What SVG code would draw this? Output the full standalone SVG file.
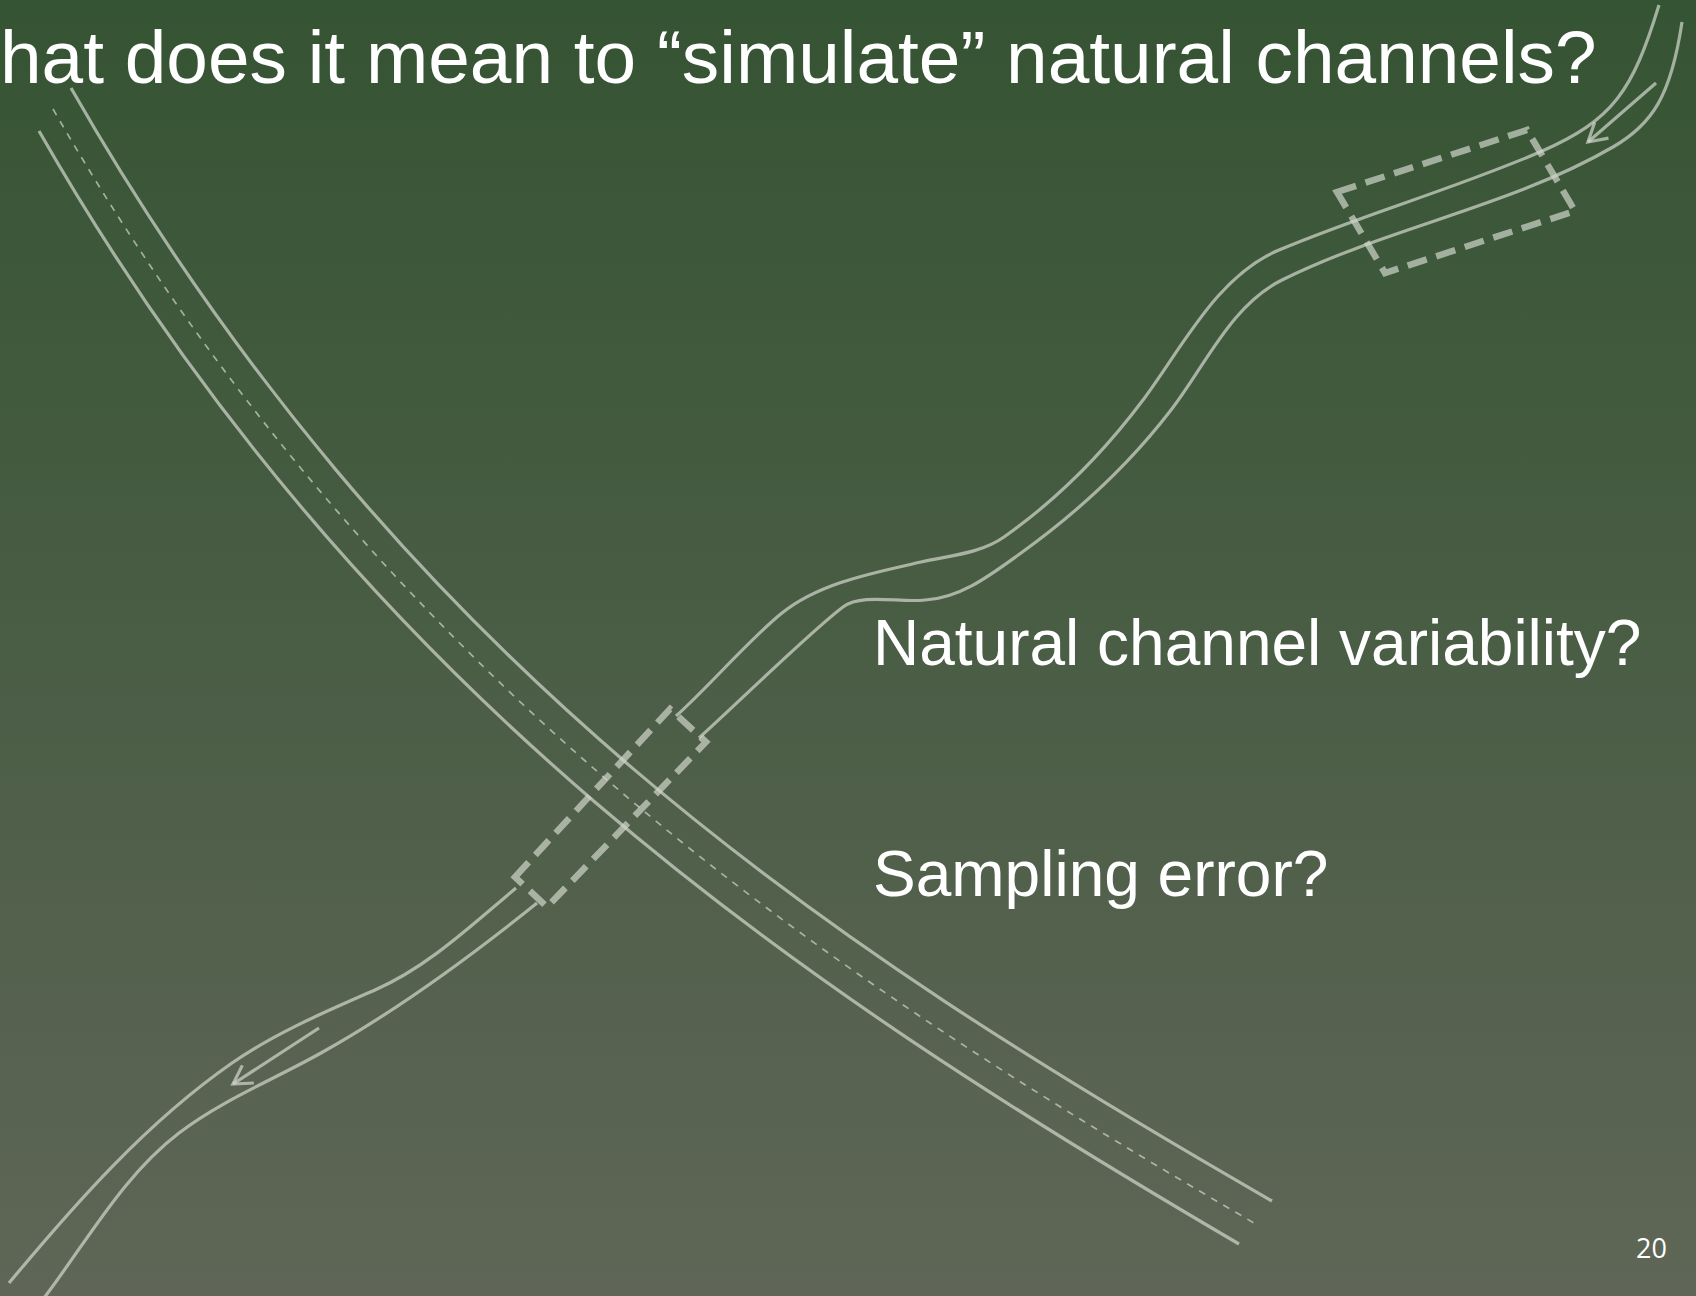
<svg xmlns="http://www.w3.org/2000/svg" width="1696" height="1296" viewBox="0 0 1696 1296">
  <defs>
    <linearGradient id="bg" x1="0" y1="0" x2="0" y2="1">
      <stop offset="0" stop-color="#355433"/>
      <stop offset="1" stop-color="#5f6657"/>
    </linearGradient>
    <marker id="ah" markerUnits="userSpaceOnUse" markerWidth="40" markerHeight="40" viewBox="-20 -20 40 40" refX="0" refY="0" orient="auto" overflow="visible">
      <path d="M-18,-10.5 L0,0 L-18,10.5" fill="none" stroke="#d0d5cb" stroke-opacity="0.72" stroke-width="3.2"/>
    </marker>
    <style>
      .bank { fill: none; stroke: #d0d5cb; stroke-opacity: 0.72; stroke-width: 3.2; }
      .center { fill: none; stroke: #d0d5cb; stroke-opacity: 0.7; stroke-width: 1.7; stroke-dasharray: 7 7; }
      .box { fill: none; stroke: #d0d5cb; stroke-opacity: 0.7; stroke-width: 6.5; stroke-dasharray: 20 10; }
      .arrow { fill: none; stroke: #d0d5cb; stroke-opacity: 0.72; stroke-width: 3.2; }
      .title { font-family: "Liberation Sans", Arial, sans-serif; fill: #ffffff; }
    </style>
  </defs>
  <rect x="0" y="0" width="1696" height="1296" fill="url(#bg)"/>

  <g id="straight-channel">
    <path class="bank" d="M71,88 C401,665 830,947 1272,1201"/>
    <path class="bank" d="M39,131 C361,694 800,987 1239,1244"/>
    <path class="center" d="M53,109 C381,680 815,967 1254,1223"/>
  </g>

  <g id="natural-channel">
    <path class="bank" d="M1659,5 C1632.6,91 1613.5,120 1540,152 C1454.5,188.7 1364.7,214 1279,250 C1217,276 1183,346.4 1143,400 C1104,452 1057,499.6 1004,537 C980.3,553.7 949.3,555.5 921,562 C873.2,573 820,582.6 782,613 C750.8,637.8 706,689.6 676,716"/>
    <path class="bank" d="M1682,22 C1671,96.2 1652,124.4 1613,147 C1510,206.7 1388.6,227.2 1282,280 C1231,305.3 1205.8,364.8 1171,410 C1129,464.7 1077,512.7 1021,553 C991.8,574 961,598.2 925,600 C900,603 862,593 843,607 C811,631 743.4,697.8 699,738"/>
    <path class="bank" d="M516,888 C471.5,925.2 428,966.7 375,990 C326.5,1011.3 275.5,1032.7 232,1063 C146.6,1122.4 75.6,1203.1 9,1283"/>
    <path class="bank" d="M537,903 C468.5,958.2 397.8,1010.1 321,1053 C273.9,1079.4 221.9,1100.2 179,1133 C123.3,1175.5 88.4,1239.3 44,1298"/>
  </g>

  <g id="connectors">
    <path class="arrow" d="M1656,83 L1588,142" marker-end="url(#ah)"/>
    <path class="arrow" d="M319,1028 L233,1084" marker-end="url(#ah)"/>
  </g>

  <g id="box-upstream">
    <polygon class="box" points="1337,192 1527,130 1575,211 1385,273"/>
  </g>
  <g id="box-crossing">
    <polygon class="box" points="515,877 670,709 706,742 547,907"/>
  </g>

  <g id="title">
    <text class="title" x="0" y="83" font-size="74.8">hat does it mean to “simulate” natural channels?</text>
  </g>
  <g id="label-variability">
    <text class="title" x="873" y="665" font-size="64">Natural channel variability?</text>
  </g>
  <g id="label-sampling">
    <text class="title" x="873" y="896" font-size="64">Sampling error?</text>
  </g>
  <g id="page-number">
    <text x="1636" y="1258" font-size="27" font-family="'Open Sans', 'Liberation Sans', sans-serif" fill="#ffffff">20</text>
  </g>
</svg>
